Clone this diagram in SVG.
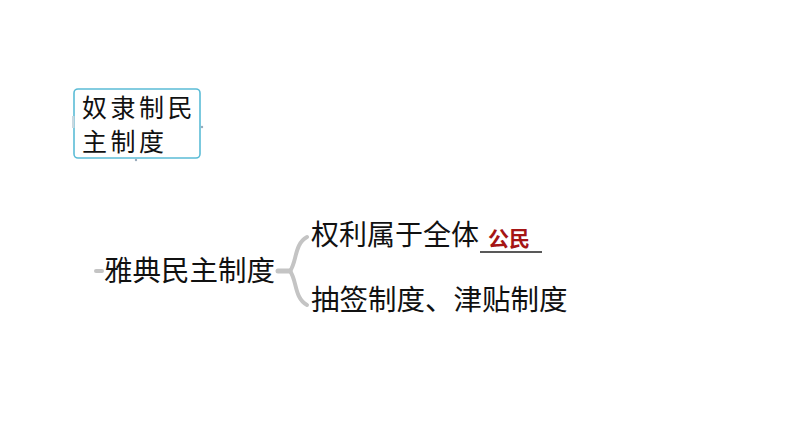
<svg xmlns="http://www.w3.org/2000/svg" width="794" height="447" viewBox="0 0 794 447">
<style>
.t{font-family:"Noto Sans CJK SC","Noto Sans",sans-serif;fill:#111;}
.c{fill:none;stroke:#c4c4c4;stroke-linecap:round;}
</style>
<rect width="794" height="447" fill="#fff"/>
<g id="node-slave">
<rect x="74" y="89" width="126" height="69" rx="4" fill="#fff" stroke="#5bbcd6" stroke-width="1.6"/>
<rect x="72" y="116" width="2.5" height="12" fill="#c8d8e0"/>
<circle cx="202" cy="127" r="1.2" fill="#9ab"/>
<circle cx="136" cy="160" r="1.2" fill="#9ab"/>
<text class="t" x="82" y="117" font-size="25" letter-spacing="3.5">奴隶制民</text>
<text class="t" x="82" y="151" font-size="25" letter-spacing="3.5">主制度</text>
</g>
<g id="connectors">
<line class="c" x1="96" y1="271" x2="102" y2="271" stroke-width="4"/>
<line class="c" x1="278" y1="271" x2="290" y2="271" stroke-width="5"/>
<path class="c" d="M290,271 C297,262 294,244 307,237" stroke-width="4"/>
<path class="c" d="M290,271 C297,280 294,298 307,305" stroke-width="4"/>
<line x1="480" y1="252" x2="542" y2="252" stroke="#222" stroke-width="1.5"/>
</g>
<g id="node-athens">
<text class="t" x="104" y="281" font-size="28.5">雅典民主制度</text>
</g>
<g id="node-rights">
<text class="t" x="311" y="245" font-size="28">权利属于全体</text>
<text x="488" y="246" font-size="21" font-family="'Noto Sans CJK SC',sans-serif" font-weight="bold" fill="#a51515">公民</text>
</g>
<g id="node-lot">
<text class="t" x="311" y="310" font-size="28.5">抽签制度、津贴制度</text>
</g>
</svg>
